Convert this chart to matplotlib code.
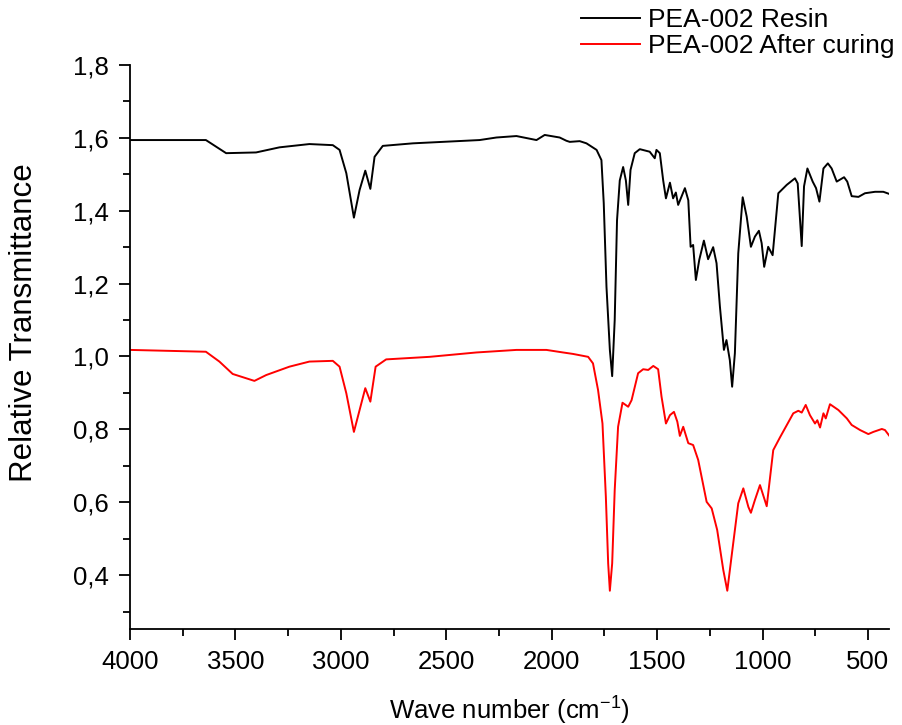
import numpy as np
import matplotlib
matplotlib.use('Agg')
import matplotlib.pyplot as plt
from matplotlib.ticker import MultipleLocator, FuncFormatter

plt.rcParams['font.family'] = ['Liberation Sans', 'DejaVu Sans']
plt.rcParams['mathtext.default'] = 'regular'

# PEA-002 Resin (wave number, relative transmittance)
resin_wn = [4000, 3640, 3592, 3544, 3402, 3291, 3149, 3038, 3006, 2974, 2938, 2911,
            2884, 2860, 2840, 2801, 2658, 2342, 2262, 2167, 2072, 2033, 1962, 1930,
            1914, 1867, 1835, 1787, 1764, 1753, 1740, 1724, 1713, 1701, 1690, 1677,
            1661, 1648, 1637, 1626, 1606, 1582, 1535, 1511, 1503, 1487, 1471, 1458,
            1439, 1424, 1411, 1400, 1368, 1352, 1341, 1329, 1316, 1300, 1278, 1258,
            1234, 1218, 1202, 1183, 1171, 1155, 1144, 1131, 1115, 1094, 1075, 1055,
            1036, 1017, 1004, 992, 973, 952, 925, 885, 846, 833, 814, 803, 787, 762,
            746, 730, 711, 690, 672, 648, 613, 598, 577, 545, 514, 466, 427, 398]
resin_t = [1.594, 1.594, 1.576, 1.558, 1.560, 1.574, 1.583, 1.580, 1.567, 1.503, 1.381, 1.457,
           1.510, 1.460, 1.548, 1.578, 1.585, 1.594, 1.601, 1.605, 1.594, 1.608, 1.601, 1.592,
           1.589, 1.591, 1.585, 1.567, 1.539, 1.421, 1.191, 1.018, 0.946, 1.100, 1.374, 1.483,
           1.520, 1.483, 1.416, 1.512, 1.558, 1.569, 1.562, 1.544, 1.567, 1.558, 1.483, 1.434,
           1.477, 1.434, 1.450, 1.416, 1.462, 1.429, 1.301, 1.306, 1.210, 1.265, 1.318, 1.267,
           1.300, 1.256, 1.137, 1.018, 1.045, 0.990, 0.917, 1.009, 1.283, 1.437, 1.384, 1.301,
           1.329, 1.345, 1.311, 1.246, 1.301, 1.278, 1.448, 1.471, 1.489, 1.475, 1.303, 1.467, 1.516, 1.480,
           1.462, 1.425, 1.516, 1.530, 1.516, 1.480, 1.492, 1.480, 1.440, 1.438, 1.448, 1.452, 1.452, 1.446]

# PEA-002 After curing
cured_wn = [4000, 3640, 3576, 3513, 3410, 3354, 3244, 3149, 3038, 3006, 2974, 2938,
            2911, 2884, 2860, 2835, 2785, 2579, 2357, 2167, 2025, 1946, 1899, 1827,
            1804, 1780, 1759, 1743, 1732, 1724, 1713, 1701, 1685, 1664, 1637, 1621,
            1590, 1566, 1542, 1518, 1495, 1479, 1458, 1439, 1420, 1404, 1392, 1376,
            1352, 1329, 1305, 1265, 1241, 1215, 1186, 1167, 1147, 1115, 1091, 1067,
            1055, 1036, 1012, 980, 949, 917, 854, 830, 814, 795, 775, 751, 740, 727,
            711, 700, 680, 640, 600, 577, 537, 498, 474, 434, 419, 398]
cured_t = [1.018, 1.013, 0.986, 0.952, 0.933, 0.949, 0.972, 0.986, 0.988, 0.972, 0.899, 0.793,
           0.853, 0.913, 0.876, 0.972, 0.992, 0.999, 1.011, 1.018, 1.018, 1.011, 1.007, 0.999,
           0.981, 0.908, 0.816, 0.615, 0.432, 0.357, 0.432, 0.633, 0.807, 0.873, 0.862, 0.880,
           0.954, 0.965, 0.963, 0.974, 0.965, 0.890, 0.816, 0.839, 0.848, 0.821, 0.782, 0.807,
           0.762, 0.757, 0.716, 0.601, 0.583, 0.524, 0.414, 0.357, 0.450, 0.597, 0.638, 0.587,
           0.571, 0.606, 0.647, 0.589, 0.743, 0.778, 0.844, 0.851, 0.846, 0.867, 0.839, 0.816, 0.825, 0.805,
           0.844, 0.830, 0.869, 0.853, 0.830, 0.812, 0.798, 0.787, 0.793, 0.801, 0.798, 0.782]

fig = plt.figure(figsize=(9.03, 7.25), dpi=100, facecolor='w')
ax = fig.add_axes([130/903, 96/725, 759/903, 564/725])

l1, = ax.plot(resin_wn, resin_t, color='black', lw=1.4)
l2, = ax.plot(cured_wn, cured_t, color='red', lw=1.4)

ax.set_xlim(4000, 400)
ax.set_ylim(0.252, 1.8)
ax.xaxis.set_major_locator(MultipleLocator(500))
ax.xaxis.set_minor_locator(MultipleLocator(250))
ax.yaxis.set_major_locator(MultipleLocator(0.2))
ax.yaxis.set_minor_locator(MultipleLocator(0.1))
ax.yaxis.set_major_formatter(FuncFormatter(lambda v, p: ('%.1f' % v).replace('.', ',')))

for s in ['top', 'right']:
    ax.spines[s].set_visible(False)
for s in ['left', 'bottom']:
    ax.spines[s].set_linewidth(1.3)
ax.tick_params(which='major', direction='out', length=8, width=1.3, labelsize=18.5, pad=7)
ax.tick_params(which='minor', direction='out', length=5, width=1.3)

ax.set_xlabel('Wave number (cm$^{-1}$)', fontsize=18.5)
ax.xaxis.set_label_coords(0.5, -0.116)
ax.set_ylabel('Relative Transmittance', fontsize=22.5)
ax.yaxis.set_label_coords(-0.12, 0.544)

fig.legend([l1, l2], ['PEA-002 Resin', 'PEA-002 After curing'],
           loc='upper left', bbox_to_anchor=(578/903, 0.992), frameon=False,
           fontsize=19, handlelength=2.25, handletextpad=0.3, labelspacing=0.05,
           borderaxespad=0.0, borderpad=0.1)

plt.savefig('out.png', dpi=100)
